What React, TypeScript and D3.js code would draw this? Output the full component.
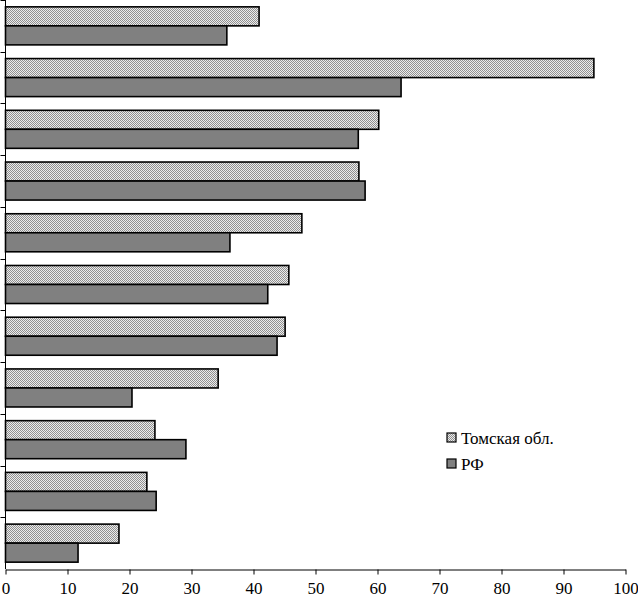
import { useRef, useEffect } from 'react';
import * as d3 from 'd3';

const categories = ['1', '2', '3', '4', '5', '6', '7', '8', '9', '10', '11'];
const tomsk = [40.9, 94.9, 60.2, 57.0, 47.8, 45.7, 45.1, 34.3, 24.1, 22.8, 18.3];
const rf = [35.7, 63.8, 56.9, 58.0, 36.2, 42.3, 43.8, 20.4, 29.1, 24.3, 11.7];
const xTicks = [0, 10, 20, 30, 40, 50, 60, 70, 80, 90, 100];
const seriesNames = ['Томская обл.', 'РФ'];

const W = 638;
const H = 602;
const FONT = "'Liberation Serif', 'Times New Roman', Times, 'DejaVu Serif', serif";

export default function App() {
  const svgRef = useRef<SVGSVGElement>(null);

  useEffect(() => {
    const svg = svgRef.current;
    if (!svg) return;
    const root = d3.select(svg);
    root.selectAll('*').remove();

    // checker pattern for the Tomsk bars
    const defs = root.append('defs');
    const pat = defs.append('pattern').attr('id', 'dots').attr('patternUnits', 'userSpaceOnUse')
      .attr('width', 2).attr('height', 2);
    pat.append('rect').attr('width', 2).attr('height', 2).attr('fill', '#ececec');
    pat.append('rect').attr('width', 1).attr('height', 1).attr('fill', '#909090');
    pat.append('rect').attr('x', 1).attr('y', 1).attr('width', 1).attr('height', 1).attr('fill', '#909090');

    const xScale = d3.scaleLinear().domain([0, 100]).range([5.5, 625.5]);
    const yScale = d3.scaleBand<string>().domain(categories).range([0, 569]).padding(0);
    const inner = d3.scaleBand<string>().domain(['t', 'r']).range([0, yScale.bandwidth()])
      .paddingInner(0).paddingOuter(0.36);

    const fills = ['url(#dots)', '#808080'];
    const data = [tomsk, rf];

    // bars
    categories.forEach((c, i) => {
      ['t', 'r'].forEach((k, si) => {
        const v = data[si][i];
        root.append('rect')
          .attr('x', xScale(0))
          .attr('y', (yScale(c) ?? 0) + (inner(k) ?? 0))
          .attr('width', xScale(v) - xScale(0))
          .attr('height', inner.bandwidth())
          .attr('fill', fills[si])
          .attr('stroke', '#000')
          .attr('stroke-width', 1.6);
      });
    });

    // y axis with category ticks, no labels
    const yG = root.append('g').attr('transform', `translate(${xScale(0)},0)`);
    yG.append('line').attr('x1', 0).attr('x2', 0).attr('y1', 0).attr('y2', 569).attr('stroke', '#000');
    categories.forEach(c => {
      const y = Math.round(yScale(c) ?? 0) + 0.5;
      yG.append('line').attr('x1', -5).attr('x2', 0).attr('y1', y).attr('y2', y).attr('stroke', '#000');
    });

    // x axis
    const xAxis = d3.axisBottom(xScale).tickValues(xTicks).tickSize(5).tickSizeOuter(0).tickPadding(7)
      .tickFormat(d => String(d));
    const xG = root.append('g').attr('transform', 'translate(0,569.5)').call(xAxis);
    xG.attr('font-family', null);
    xG.selectAll('text').attr('fill', '#000').style('font-family', FONT).style('font-size', '17px');
    xG.selectAll('line').attr('stroke', '#000');
    xG.select('.domain').attr('stroke', '#000');

    // legend
    const lg = root.append('g').attr('transform', 'translate(447,433)');
    seriesNames.forEach((name, i) => {
      lg.append('rect').attr('x', 0).attr('y', i * 26).attr('width', 9).attr('height', 9)
        .attr('fill', fills[i]).attr('stroke', '#000').attr('stroke-width', 1.2);
      lg.append('text').attr('x', 14).attr('y', i * 26 + 11).attr('fill', '#000')
        .style('font-family', FONT).style('font-size', '17px').text(name);
    });
  }, []);

  return (
    <svg ref={svgRef} width={W} height={H} viewBox={`0 0 ${W} ${H}`}
      style={{ position: 'absolute', left: 0, top: 0, display: 'block', background: '#fff' }} />
  );
}
